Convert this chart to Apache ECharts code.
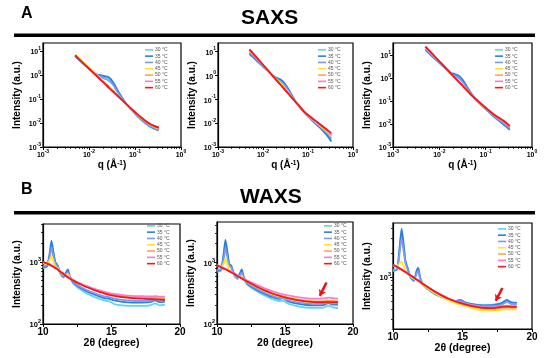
<!DOCTYPE html>
<html><head><meta charset="utf-8">
<script src="https://cdn.jsdelivr.net/npm/echarts@6/dist/echarts.min.js"></script>
<style>html,body{margin:0;padding:0;background:#fff}#c{width:554px;height:358px}</style>
</head><body><div id="c"></div>
<script>
const FONT = "'Liberation Sans', Arial, sans-serif";
const temps = ['30 °C', '35 °C', '40 °C', '45 °C', '50 °C', '55 °C', '60 °C'];
const colors = ['#5fd4f3', '#2b7fe2', '#8099ef', '#ffe52e', '#ffa550', '#ff7bc6', '#f01818'];

// SAXS: q (1/Å)
const qSAXS = [0.005, 0.007, 0.01, 0.014, 0.018, 0.022, 0.027, 0.033, 0.04, 0.05, 0.065, 0.085, 0.11, 0.15, 0.2, 0.26, 0.33];
// Panel A1
const A1_30 = [6.2, 3.4, 1.82, 1.08, 0.9, 0.8, 0.7, 0.48, 0.25, 0.125, 0.06, 0.034, 0.02, 0.0115, 0.0075, 0.0058, 0.0049];
const A1_35 = [6.0, 3.3, 1.8, 1.1, 0.98, 0.9, 0.8, 0.52, 0.27, 0.13, 0.062, 0.035, 0.021, 0.012, 0.0078, 0.006, 0.005];
const A1_40 = [6.3, 3.45, 1.85, 1.05, 0.82, 0.7, 0.58, 0.4, 0.22, 0.115, 0.06, 0.035, 0.021, 0.0125, 0.008, 0.0062, 0.0052];
const A1_45 = [7.2, 3.9, 2.05, 1.12, 0.72, 0.5, 0.34, 0.23, 0.155, 0.1, 0.061, 0.037, 0.023, 0.014, 0.0093, 0.0071, 0.006];
const A1_50 = [6.6, 3.55, 1.87, 1.01, 0.64, 0.445, 0.3, 0.21, 0.147, 0.098, 0.061, 0.037, 0.0235, 0.0144, 0.0095, 0.0073, 0.0061];
const A1_55 = [6.5, 3.5, 1.84, 1.0, 0.63, 0.44, 0.3, 0.21, 0.147, 0.098, 0.061, 0.0372, 0.0238, 0.0146, 0.0097, 0.0075, 0.0063];
const A1_60 = [6.5, 3.5, 1.84, 1.0, 0.63, 0.44, 0.3, 0.21, 0.148, 0.098, 0.061, 0.0374, 0.024, 0.0147, 0.0098, 0.0076, 0.0064];
// Panel A2
const A2_30 = [8.5, 4.7, 2.4, 1.28, 0.85, 0.68, 0.52, 0.33, 0.19, 0.092, 0.047, 0.026, 0.016, 0.0093, 0.0058, 0.0035, 0.002];
const A2_35 = [7.5, 4.3, 2.3, 1.25, 0.85, 0.72, 0.58, 0.36, 0.2, 0.095, 0.048, 0.026, 0.016, 0.009, 0.0055, 0.0032, 0.0017];
const A2_40 = [9, 5.0, 2.5, 1.3, 0.82, 0.62, 0.46, 0.3, 0.18, 0.09, 0.047, 0.027, 0.017, 0.0098, 0.0063, 0.004, 0.0024];
const A2_45 = [10.5, 5.4, 2.6, 1.3, 0.8, 0.56, 0.38, 0.24, 0.15, 0.088, 0.049, 0.028, 0.018, 0.011, 0.007, 0.0046, 0.0028];
const A2_50 = [11, 5.6, 2.65, 1.31, 0.77, 0.5, 0.33, 0.21, 0.14, 0.087, 0.049, 0.028, 0.0185, 0.0115, 0.0075, 0.005, 0.0031];
const A2_55 = [11.5, 5.7, 2.7, 1.32, 0.77, 0.5, 0.325, 0.21, 0.14, 0.087, 0.0495, 0.028, 0.0188, 0.0118, 0.0077, 0.0052, 0.0034];
const A2_60 = [12, 5.84, 2.72, 1.32, 0.77, 0.5, 0.325, 0.21, 0.14, 0.087, 0.0496, 0.028, 0.019, 0.012, 0.0079, 0.0054, 0.0038];
// Panel A3
const A3_30 = [17.5, 9.2, 4.7, 2.45, 1.6, 1.35, 1.1, 0.7, 0.38, 0.195, 0.102, 0.06, 0.037, 0.021, 0.0135, 0.009, 0.006];
const A3_35 = [16.5, 8.7, 4.5, 2.4, 1.65, 1.45, 1.2, 0.75, 0.4, 0.2, 0.105, 0.062, 0.038, 0.021, 0.013, 0.0085, 0.0056];
const A3_40 = [18, 9.5, 4.8, 2.45, 1.5, 1.2, 0.95, 0.6, 0.34, 0.185, 0.1, 0.061, 0.038, 0.022, 0.0145, 0.0098, 0.0066];
const A3_45 = [22, 10.9, 5.2, 2.55, 1.5, 1.0, 0.67, 0.44, 0.29, 0.177, 0.106, 0.066, 0.042, 0.025, 0.017, 0.012, 0.0078];
const A3_50 = [22.5, 11.1, 5.25, 2.58, 1.51, 0.99, 0.65, 0.425, 0.282, 0.176, 0.107, 0.067, 0.0425, 0.0253, 0.0173, 0.0122, 0.0079];
const A3_55 = [23, 11.2, 5.3, 2.6, 1.52, 0.99, 0.645, 0.42, 0.28, 0.175, 0.108, 0.0675, 0.043, 0.0255, 0.0175, 0.0124, 0.008];
const A3_60 = [23, 11.3, 5.3, 2.6, 1.52, 0.99, 0.645, 0.42, 0.28, 0.175, 0.108, 0.0675, 0.043, 0.0256, 0.0176, 0.0125, 0.0081];

// WAXS: 2θ (degree)
const twoTheta = [10.0, 10.3, 10.5, 10.62, 10.75, 10.9, 11.05, 11.25, 11.5, 11.7, 11.82, 11.95, 12.2, 12.6, 13.0, 13.5, 14.0, 14.5, 14.85, 15.2, 15.8, 16.5, 17.2, 17.8, 18.2, 18.5, 18.9];
// Panel B1
const B1_30 = [800, 840, 1300, 1900, 1350, 960, 880, 660, 560, 650, 700, 570, 450, 375, 330, 290, 260, 240, 232, 210, 200, 196, 196, 200, 215, 200, 205];
const B1_35 = [820, 860, 1450, 2200, 1500, 1000, 900, 680, 580, 700, 760, 600, 470, 400, 355, 315, 285, 262, 255, 240, 228, 222, 222, 225, 240, 225, 230];
const B1_40 = [850, 890, 1250, 1700, 1250, 950, 870, 680, 590, 640, 680, 580, 480, 415, 370, 330, 300, 278, 272, 256, 245, 238, 236, 238, 250, 238, 240];
const B1_45 = [950, 930, 1080, 1250, 1050, 850, 800, 700, 630, 620, 640, 560, 505, 455, 415, 375, 342, 318, 305, 292, 280, 272, 268, 266, 268, 262, 262];
const B1_50 = [1000, 945, 905, 875, 845, 805, 765, 705, 645, 595, 570, 545, 505, 455, 415, 376, 342, 317, 302, 292, 280, 270, 265, 262, 262, 258, 255];
const B1_55 = [1010, 955, 915, 885, 855, 815, 775, 715, 655, 605, 580, 555, 515, 465, 426, 388, 354, 330, 315, 305, 293, 284, 280, 278, 282, 276, 275];
const B1_60 = [1000, 940, 900, 870, 840, 800, 760, 700, 640, 590, 565, 540, 500, 450, 410, 370, 335, 310, 295, 285, 272, 262, 256, 252, 250, 248, 245];
// Panel B2
const B2_30 = [700, 730, 1300, 2000, 1400, 900, 840, 620, 530, 640, 720, 560, 440, 375, 330, 290, 258, 236, 240, 215, 196, 185, 182, 184, 198, 188, 180];
const B2_35 = [720, 760, 1450, 2300, 1550, 950, 880, 650, 560, 680, 770, 600, 460, 395, 350, 308, 276, 255, 262, 235, 216, 205, 200, 202, 218, 208, 205];
const B2_40 = [760, 780, 1150, 1700, 1250, 900, 820, 640, 560, 620, 680, 560, 470, 410, 365, 322, 290, 268, 262, 245, 228, 218, 212, 214, 225, 218, 215];
const B2_45 = [880, 830, 950, 1150, 950, 760, 700, 650, 600, 590, 610, 535, 485, 432, 388, 344, 310, 285, 272, 258, 242, 230, 224, 224, 230, 226, 225];
const B2_50 = [890, 835, 795, 775, 750, 720, 690, 655, 605, 570, 550, 530, 495, 446, 401, 356, 321, 296, 281, 268, 252, 240, 233, 234, 238, 236, 232];
const B2_55 = [900, 845, 805, 785, 760, 730, 700, 668, 620, 585, 565, 545, 512, 465, 422, 378, 345, 318, 302, 290, 275, 263, 258, 260, 268, 262, 258];
const B2_60 = [890, 830, 790, 770, 745, 715, 685, 650, 600, 565, 545, 525, 490, 440, 395, 350, 315, 290, 275, 262, 245, 232, 225, 225, 228, 226, 225];
// Panel B3
const B3_30 = [1180, 1240, 2400, 3600, 2500, 1520, 1260, 990, 890, 1150, 1250, 950, 780, 685, 615, 560, 522, 500, 515, 482, 460, 448, 452, 475, 510, 485, 480];
const B3_35 = [1200, 1260, 2600, 4000, 2700, 1570, 1300, 1000, 900, 1200, 1300, 980, 790, 690, 620, 565, 525, 500, 520, 480, 455, 440, 445, 470, 520, 480, 475];
const B3_40 = [1230, 1250, 2200, 3000, 2200, 1500, 1250, 1020, 920, 1100, 1200, 950, 800, 700, 630, 570, 525, 495, 500, 470, 445, 430, 432, 450, 490, 460, 455];
const B3_45 = [1380, 1380, 1500, 1540, 1400, 1200, 1100, 1020, 950, 930, 920, 850, 780, 700, 630, 565, 512, 472, 452, 432, 405, 385, 380, 392, 398, 395, 392];
const B3_50 = [1410, 1325, 1265, 1232, 1192, 1148, 1102, 1046, 976, 926, 896, 866, 806, 726, 656, 586, 532, 490, 470, 450, 425, 405, 400, 412, 418, 415, 412];
const B3_55 = [1420, 1330, 1272, 1238, 1198, 1152, 1108, 1052, 982, 932, 902, 872, 812, 732, 662, 594, 540, 500, 480, 462, 440, 420, 418, 432, 438, 434, 432];
const B3_60 = [1420, 1330, 1270, 1235, 1195, 1150, 1105, 1050, 980, 930, 900, 870, 810, 730, 660, 590, 535, 495, 475, 455, 430, 412, 410, 425, 428, 425, 425];

// Arrow annotations (data coordinates: [2θ, intensity])
const arrowB2 = [[18.05, 471], [17.56, 286]];
const arrowB3 = [[17.87, 729], [17.39, 506]];

// tick values
const saxsMajor = [0.001, 0.01, 0.1, 1];
const saxsYMajor = [0.001, 0.01, 0.1, 1, 10];
const saxsMinor = [];
[0.001, 0.01, 0.1].forEach(d => { for (let k = 2; k <= 9; k++) saxsMinor.push(+(k * d).toPrecision(3)); });
const waxsYMajor = [100, 1000];
const waxsYMinor = [200, 300, 400, 500, 600, 700, 800, 900, 2000, 3000, 4000];

const panels = [
  { kind: 'saxs', grid: { left: 43, top: 43, width: 138, height: 104 }, ymin: 0.001, ymax: 21.5, xs: qSAXS,
    ys: [A1_30, A1_35, A1_40, A1_45, A1_50, A1_55, A1_60], legend: { left: 145, top: 47 } },
  { kind: 'saxs', grid: { left: 218, top: 43, width: 135, height: 104 }, ymin: 0.001, ymax: 22, xs: qSAXS,
    ys: [A2_30, A2_35, A2_40, A2_45, A2_50, A2_55, A2_60], legend: { left: 318, top: 47 } },
  { kind: 'saxs', grid: { left: 393, top: 43, width: 139, height: 104 }, ymin: 0.001, ymax: 33, xs: qSAXS,
    ys: [A3_30, A3_35, A3_40, A3_45, A3_50, A3_55, A3_60], legend: { left: 495, top: 47 } },
  { kind: 'waxs', grid: { left: 43, top: 224, width: 137, height: 100 }, ymin: 100, ymax: 4100, xs: twoTheta,
    ys: [B1_30, B1_35, B1_40, B1_45, B1_50, B1_55, B1_60], legend: { left: 147, top: 223 } },
  { kind: 'waxs', grid: { left: 217, top: 222, width: 136, height: 102 }, ymin: 100, ymax: 4500, xs: twoTheta,
    ys: [B2_30, B2_35, B2_40, B2_45, B2_50, B2_55, B2_60], legend: { left: 324, top: 223 }, arrow: arrowB2 },
  { kind: 'waxs', grid: { left: 393, top: 223, width: 139, height: 106 }, ymin: 225, ymax: 4700, xs: twoTheta,
    ys: [B3_30, B3_35, B3_40, B3_45, B3_50, B3_55, B3_60], legend: { left: 498, top: 226 }, arrow: arrowB3 }
];

const supRich = (fs, sfs) => ({
  b: { fontSize: fs, fontWeight: 'bold', fontFamily: FONT, color: '#000', lineHeight: fs + 3, verticalAlign: 'bottom' },
  s: { fontSize: sfs, fontWeight: 'bold', fontFamily: FONT, color: '#000', lineHeight: sfs, verticalAlign: 'top' }
});
const logFmt = v => '{b|10}{s|' + Math.round(Math.log10(v)) + '}';
const nameStyle = { fontSize: 10, fontWeight: 'bold', fontFamily: FONT, color: '#000' };

const grid = [], xAxis = [], yAxis = [], series = [], legend = [];
panels.forEach((p, i) => {
  grid.push(Object.assign({ show: true, borderColor: '#000', borderWidth: 1.2, backgroundColor: '#fff' }, p.grid));
  const common = { gridIndex: i, splitLine: { show: false } };
  if (p.kind === 'saxs') {
    xAxis.push(Object.assign({}, common, {
      type: 'log', logBase: 10, min: 0.001, max: 1, position: 'bottom',
      axisLine: { onZero: false, lineStyle: { color: '#000', width: 1.2 } },
      axisTick: { customValues: saxsMajor, length: 3, lineStyle: { color: '#000', width: 1 } },
      axisLabel: { customValues: saxsMajor, formatter: logFmt, margin: 2, rich: supRich(7, 5) },
      name: 'q (Å{s|-1})', nameLocation: 'middle', nameGap: 13,
      nameTextStyle: Object.assign({}, nameStyle, { rich: { s: { fontSize: 6.5, fontWeight: 'bold', fontFamily: FONT, verticalAlign: 'top', lineHeight: 6, color: '#000' } } })
    }));
    xAxis.push(Object.assign({}, common, {
      type: 'log', logBase: 10, min: 0.001, max: 1, position: 'bottom',
      axisLine: { show: false, onZero: false }, axisLabel: { show: false },
      axisTick: { customValues: saxsMinor, length: 2, lineStyle: { color: '#000', width: 0.8 } }
    }));
    yAxis.push(Object.assign({}, common, {
      type: 'log', logBase: 10, min: p.ymin, max: p.ymax, position: 'left',
      axisLine: { onZero: false, lineStyle: { color: '#000', width: 1.2 } },
      axisTick: { customValues: saxsYMajor, length: 3, lineStyle: { color: '#000', width: 1 } },
      axisLabel: { customValues: saxsYMajor, formatter: logFmt, margin: 2, rich: supRich(7, 5) },
      name: 'Intensity (a.u.)', nameLocation: 'middle', nameGap: 21, nameTextStyle: nameStyle
    }));
    yAxis.push(Object.assign({}, common, {
      type: 'log', logBase: 10, min: p.ymin, max: p.ymax, position: 'left',
      axisLine: { show: false, onZero: false }, axisLabel: { show: false }, axisTick: { show: false }
    }));
  } else {
    xAxis.push(Object.assign({}, common, {
      type: 'value', min: 10, max: 20, interval: 5, position: 'bottom',
      axisLine: { onZero: false, lineStyle: { color: '#000', width: 1.2 } },
      axisTick: { length: 3, lineStyle: { color: '#000', width: 1 } },
      minorTick: { show: true, splitNumber: 2, length: 3, lineStyle: { color: '#000', width: 1 } },
      axisLabel: { margin: 3, fontSize: 10, fontWeight: 'bold', fontFamily: FONT, color: '#000' },
      name: '2θ (degree)', nameLocation: 'middle', nameGap: 13, nameTextStyle: Object.assign({}, nameStyle, { fontSize: 10.5 })
    }));
    xAxis.push(Object.assign({}, common, {
      type: 'value', min: 10, max: 20, position: 'bottom',
      axisLine: { show: false, onZero: false }, axisLabel: { show: false }, axisTick: { show: false }
    }));
    yAxis.push(Object.assign({}, common, {
      type: 'log', logBase: 10, min: p.ymin, max: p.ymax, position: 'left',
      axisLine: { onZero: false, lineStyle: { color: '#000', width: 1.2 } },
      axisTick: { customValues: waxsYMajor.filter(v => v >= p.ymin), length: 3, lineStyle: { color: '#000', width: 1 } },
      axisLabel: { customValues: waxsYMajor.filter(v => v >= p.ymin), formatter: logFmt, margin: 2, rich: supRich(7.5, 5.5) },
      name: 'Intensity (a.u.)', nameLocation: 'middle', nameGap: 21, nameTextStyle: nameStyle
    }));
    yAxis.push(Object.assign({}, common, {
      type: 'log', logBase: 10, min: p.ymin, max: p.ymax, position: 'left',
      axisLine: { show: false, onZero: false }, axisLabel: { show: false },
      axisTick: { customValues: waxsYMinor.filter(v => v >= p.ymin && v <= p.ymax), length: 2, lineStyle: { color: '#000', width: 0.8 } }
    }));
  }
  p.ys.forEach((arr, k) => {
    const s = {
      type: 'line', name: temps[k], xAxisIndex: 2 * i, yAxisIndex: 2 * i,
      data: p.xs.map((x, j) => [x, arr[j]]),
      symbol: 'none', showSymbol: false, smooth: p.kind === 'saxs' ? 0.4 : 0.2,
      lineStyle: { width: 1.8, color: colors[k] }, itemStyle: { color: colors[k] },
      z: 2 + k, silent: true, animation: false
    };
    if (p.arrow && k === 6) {
      s.markLine = {
        silent: true, symbol: ['none', 'arrow'], symbolSize: [6, 6], animation: false,
        label: { show: false },
        lineStyle: { color: '#ee1111', width: 2.6, type: 'solid' },
        data: [[{ coord: p.arrow[0] }, { coord: p.arrow[1] }]]
      };
    }
    series.push(s);
  });
  legend.push({
    orient: 'vertical', left: p.legend.left, top: p.legend.top, data: temps,
    icon: 'rect', itemWidth: 8, itemHeight: 1.6, itemGap: 0.6, padding: 0,
    selectedMode: false,
    textStyle: { fontSize: 5, lineHeight: 5.7, color: '#555', fontFamily: FONT, padding: [0, 0, 0, -3] }
  });
});

const chart = echarts.init(document.getElementById('c'), null, { renderer: 'canvas' });
chart.setOption({
  animation: false,
  backgroundColor: '#fff',
  title: [
    { text: 'A', left: 21, top: 6, padding: 0, textStyle: { fontSize: 16, fontWeight: 'bold', fontFamily: FONT, color: '#000' } },
    { text: 'SAXS', left: 241, top: 8, padding: 0, textStyle: { fontSize: 21, fontWeight: 'bold', fontFamily: FONT, color: '#000' } },
    { text: 'B', left: 21, top: 182, padding: 0, textStyle: { fontSize: 16, fontWeight: 'bold', fontFamily: FONT, color: '#000' } },
    { text: 'WAXS', left: 240, top: 187, padding: 0, textStyle: { fontSize: 21, fontWeight: 'bold', fontFamily: FONT, color: '#000' } }
  ],
  graphic: [
    { type: 'line', shape: { x1: 14, y1: 35.3, x2: 535, y2: 35.3 }, style: { stroke: '#000', lineWidth: 3.5 } },
    { type: 'line', shape: { x1: 14, y1: 212.7, x2: 535, y2: 212.7 }, style: { stroke: '#000', lineWidth: 3.5 } }
  ],
  grid, xAxis, yAxis, legend, series
});
</script></body></html>
